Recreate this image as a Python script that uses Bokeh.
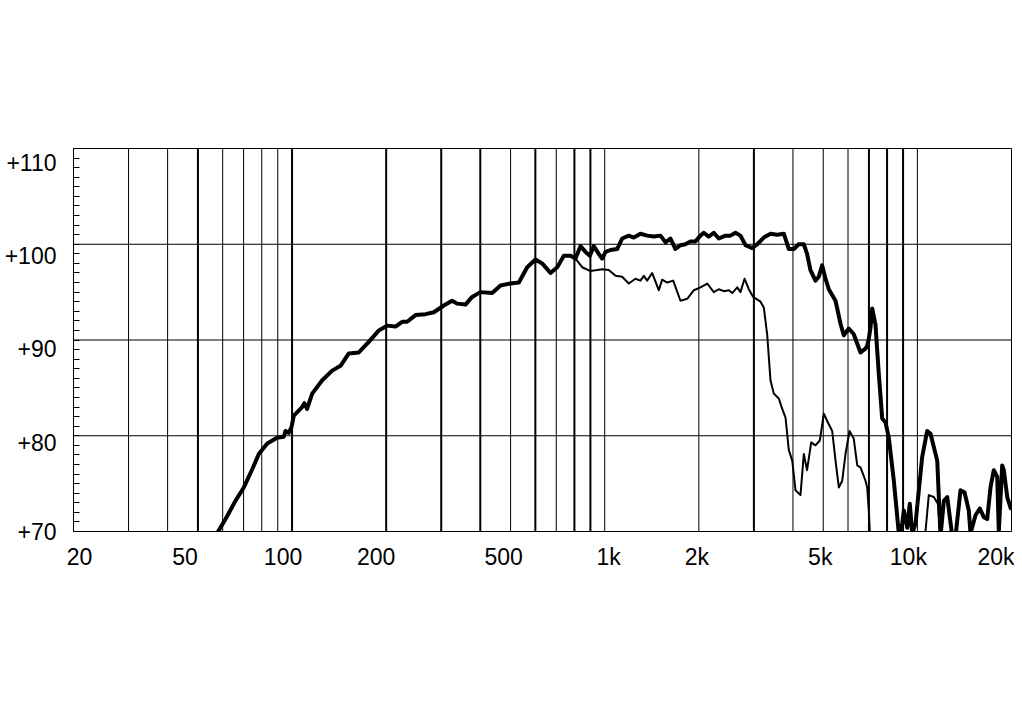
from bokeh.plotting import figure
from bokeh.models import Range1d, Span, FixedTicker, CustomJSTickFormatter
from bokeh.embed import file_html
from bokeh.resources import INLINE

# ---------------- data ----------------
thick_freq = [57, 58.5, 61.3, 65.9, 70.1, 74.6, 78.3, 83.3, 89.6, 94.1, 95.3, 97.6, 99.6,
              101.3, 107.7, 109.5, 111.7, 116, 124.9, 134.4, 142.9, 151.9, 163.5, 176,
              189.5, 201.4, 214.2, 225, 233.4, 248.3, 267.3, 284.1, 305.8, 325, 337.3,
              358.8, 376.7, 400.5, 436.6, 464.3, 499.2, 531.4, 565, 600.6, 631, 671,
              704.9, 740, 777.4, 806.4, 836.6, 868, 896.4, 922.6, 957, 981.3, 1006,
              1044, 1096, 1137, 1194, 1239, 1301, 1367, 1435, 1508, 1565, 1623, 1684,
              1747, 1812, 1880, 1951, 2024, 2074, 2152, 2233, 2316, 2433, 2524, 2619,
              2718, 2821, 2963, 3074, 3227, 3390, 3562, 3740, 3880, 4026, 4174, 4333,
              4438, 4550, 4721, 4838, 4959, 5083, 5208, 5473, 5677, 5816, 6034, 6259,
              6578, 6824, 6910, 6993, 7080, 7170, 7345, 7526, 7718, 7907, 8103, 8408,
              8723, 8944, 9050, 9279, 9457, 9626, 9862, 10361, 10750, 11016, 11576,
              11858, 12152, 12460, 12928, 13244, 13738, 14150, 14604, 14788, 15344,
              15836, 16310, 16724, 17134, 17556, 18004, 18216, 18678, 18898, 19380,
              19855, 20000]
thick_db = [69.6, 70.2, 71.3, 73.2, 74.6, 76.5, 78.1, 79.2, 79.8, 79.9, 80.5, 80.3, 80.9,
            82.1, 83.0, 83.4, 82.8, 84.4, 85.8, 86.8, 87.3, 88.6, 88.7, 89.8,
            91.0, 91.5, 91.4, 91.9, 91.9, 92.6, 92.7, 92.9, 93.6, 94.1, 93.8,
            93.7, 94.5, 95.0, 94.9, 95.7, 95.9, 96.0, 97.6, 98.4, 98.0, 97.0,
            97.6, 98.8, 98.8, 98.5, 99.8, 99.2, 98.8, 99.8, 99.0, 98.5, 99.2,
            99.4, 99.5, 100.6, 100.9, 100.7, 101.1, 100.9, 100.8, 100.9, 100.2, 100.6, 99.5,
            99.9, 100.0, 100.3, 100.3, 100.9, 101.2, 100.8, 101.2, 100.6, 100.9, 100.9, 101.2,
            100.9, 99.9, 99.6, 100.0, 100.7, 101.1, 101.0, 101.1, 99.5, 99.5, 100.0, 100.0,
            99.0, 97.3, 96.2, 96.6, 97.8, 96.4, 95.3, 94.1, 91.7, 90.5, 91.2, 90.6,
            88.7, 89.1, 89.4, 90.1, 91.3, 93.3, 91.6, 86.5, 81.8, 81.4, 79.8, 75.3,
            69.8, 70.8, 72.2, 70.4, 72.9, 69.8, 70.8, 77.8, 80.5, 80.2, 77.4,
            69.5, 73.2, 73.6, 69.5, 69.5, 74.3, 74.1, 72.2, 69.8, 71.7,
            72.4, 71.5, 71.3, 74.6, 76.4, 75.7, 70.0, 76.9, 76.4, 73.6,
            72.5, 72.3]

thin_freq = [777.4, 806.4, 847, 901, 946, 981, 1030, 1083, 1137, 1194, 1254, 1301, 1334,
             1367, 1418, 1489, 1527, 1584, 1656, 1747, 1836, 1928, 2024, 2127, 2233,
             2316, 2404, 2494, 2558, 2654, 2718, 2800, 2890, 2984, 3150, 3227, 3308,
             3390, 3474, 3604, 3696, 3787, 3880, 3979, 4076, 4228, 4333, 4438, 4576,
             4721, 4875, 5020, 5208, 5340, 5473, 5608, 5749, 5891, 6068, 6259, 6422,
             6578, 6824, 6910, 6993, 7046, 7300, 10300, 10616, 10877, 11286, 11628,
             11858, 12300]
thin_db = [98.8, 98.5, 97.6, 97.2, 97.3, 97.4, 97.3, 96.7, 96.6, 95.9, 96.4, 96.2, 96.7,
           96.2, 97.0, 95.2, 96.3, 96.0, 96.2, 94.1, 94.3, 95.2, 95.5, 95.9, 95.0,
           95.3, 95.1, 95.2, 94.9, 95.5, 95.0, 96.4, 95.3, 94.5, 94.0, 93.4, 90.6,
           85.8, 84.4, 83.9, 82.8, 81.9, 78.5, 77.4, 74.3, 73.8, 78.1, 76.4, 79.3,
           79.0, 79.5, 82.3, 81.2, 80.5, 77.4, 74.6, 75.3, 78.1, 80.5, 79.7, 76.9,
           76.7, 75.3, 74.6, 72.2, 70.0, 60.0, 60.0, 70.0, 73.8, 73.6, 72.9,
           69.5, 60.0]

x_tick_vals = [20, 50, 100, 200, 500, 1000, 2000, 5000, 10000, 20000]
x_tick_text = ["20", "50", "100", "200", "500", "1k", "2k", "5k", "10k", "20k"]
y_tick_vals = [70, 80, 90, 100, 110]
y_tick_text = ["+70", "+80", "+90", "+100", "+110"]

grid_thin = [30, 40, 60, 70, 80, 90, 500, 700, 1000, 2000, 4000, 5000, 6000, 10000]
grid_thick = [50, 100, 200, 300, 400, 600, 800, 900, 3000, 7000, 8000, 9000]
grid_h = [80, 90, 100]

# ---------------- layout / style ----------------
FONT = "Liberation Sans"
FONT_SIZE = "23px"
FRAME_W, FRAME_H = 938, 383
PX_PER_DECADE = FRAME_W / 3.0
PX_PER_DB = FRAME_H / 40.0

# label placement nudges (pixels) so that labels sit where the original puts them
x_label_shift_px = [6, -13, -9, -10, -7, 4, -2, -3, -9, -14]
x_label_ticks = [f * 10 ** (dx / PX_PER_DECADE) for f, dx in zip(x_tick_vals, x_label_shift_px)]
y_label_ticks = [max(70.0, v - (4 + 0.24 * (v - 70)) / PX_PER_DB) for v in y_tick_vals]

p = figure(x_axis_type="log", x_range=Range1d(20, 20000), y_range=Range1d(70, 110),
           frame_width=FRAME_W, frame_height=FRAME_H, width=1014, height=681,
           min_border_left=73, min_border_top=148, min_border_right=3, min_border_bottom=150,
           x_axis_location="below", y_axis_location="left",
           output_backend="svg", toolbar_location=None,
           background_fill_color="white", border_fill_color="white")
p.grid.visible = False
p.outline_line_color = "black"
p.outline_line_width = 1
p.outline_line_alpha = 1

# y axis: 1 dB minor ticks inside, labels
ya = p.yaxis[0]
ya.ticker = FixedTicker(ticks=y_label_ticks, minor_ticks=list(range(70, 111)))
ya.formatter = CustomJSTickFormatter(args=dict(vals=y_tick_vals, labels=y_tick_text), code="""
let best = 0;
for (let i = 0; i < vals.length; i++) {
  if (Math.abs(tick - vals[i]) < Math.abs(tick - vals[best])) best = i;
}
return labels[best];
""")
ya.major_tick_in = 0
ya.major_tick_out = 0
ya.minor_tick_in = 6
ya.minor_tick_out = 0
ya.minor_tick_line_color = "black"
ya.minor_tick_line_width = 1
ya.axis_line_color = "black"
ya.axis_line_width = 1
ya.major_label_standoff = 17
ya.major_label_text_font = FONT
ya.major_label_text_font_size = FONT_SIZE
ya.major_label_text_color = "black"

# x axis: labels only
xa = p.xaxis[0]
xa.ticker = FixedTicker(ticks=x_label_ticks, minor_ticks=[])
xa.formatter = CustomJSTickFormatter(args=dict(vals=x_tick_vals, labels=x_tick_text), code="""
let best = 0;
for (let i = 0; i < vals.length; i++) {
  if (Math.abs(Math.log(tick) - Math.log(vals[i])) < Math.abs(Math.log(tick) - Math.log(vals[best]))) best = i;
}
return labels[best];
""")
xa.major_tick_in = 0
xa.major_tick_out = 0
xa.minor_tick_line_color = None
xa.axis_line_color = None
xa.major_label_standoff = 12
xa.major_label_text_font = FONT
xa.major_label_text_font_size = FONT_SIZE
xa.major_label_text_color = "black"

for f in grid_thin:
    p.add_layout(Span(location=f, dimension="height", line_color="black", line_width=1))
for f in grid_thick:
    p.add_layout(Span(location=f, dimension="height", line_color="black", line_width=2))
for v in grid_h:
    p.add_layout(Span(location=v, dimension="width", line_color="black", line_width=1))

p.line(thin_freq, thin_db, line_color="black", line_width=2, line_join="round")
p.line(thick_freq, thick_db, line_color="black", line_width=4, line_join="round")

open("out.html", "w").write(file_html(p, INLINE))
